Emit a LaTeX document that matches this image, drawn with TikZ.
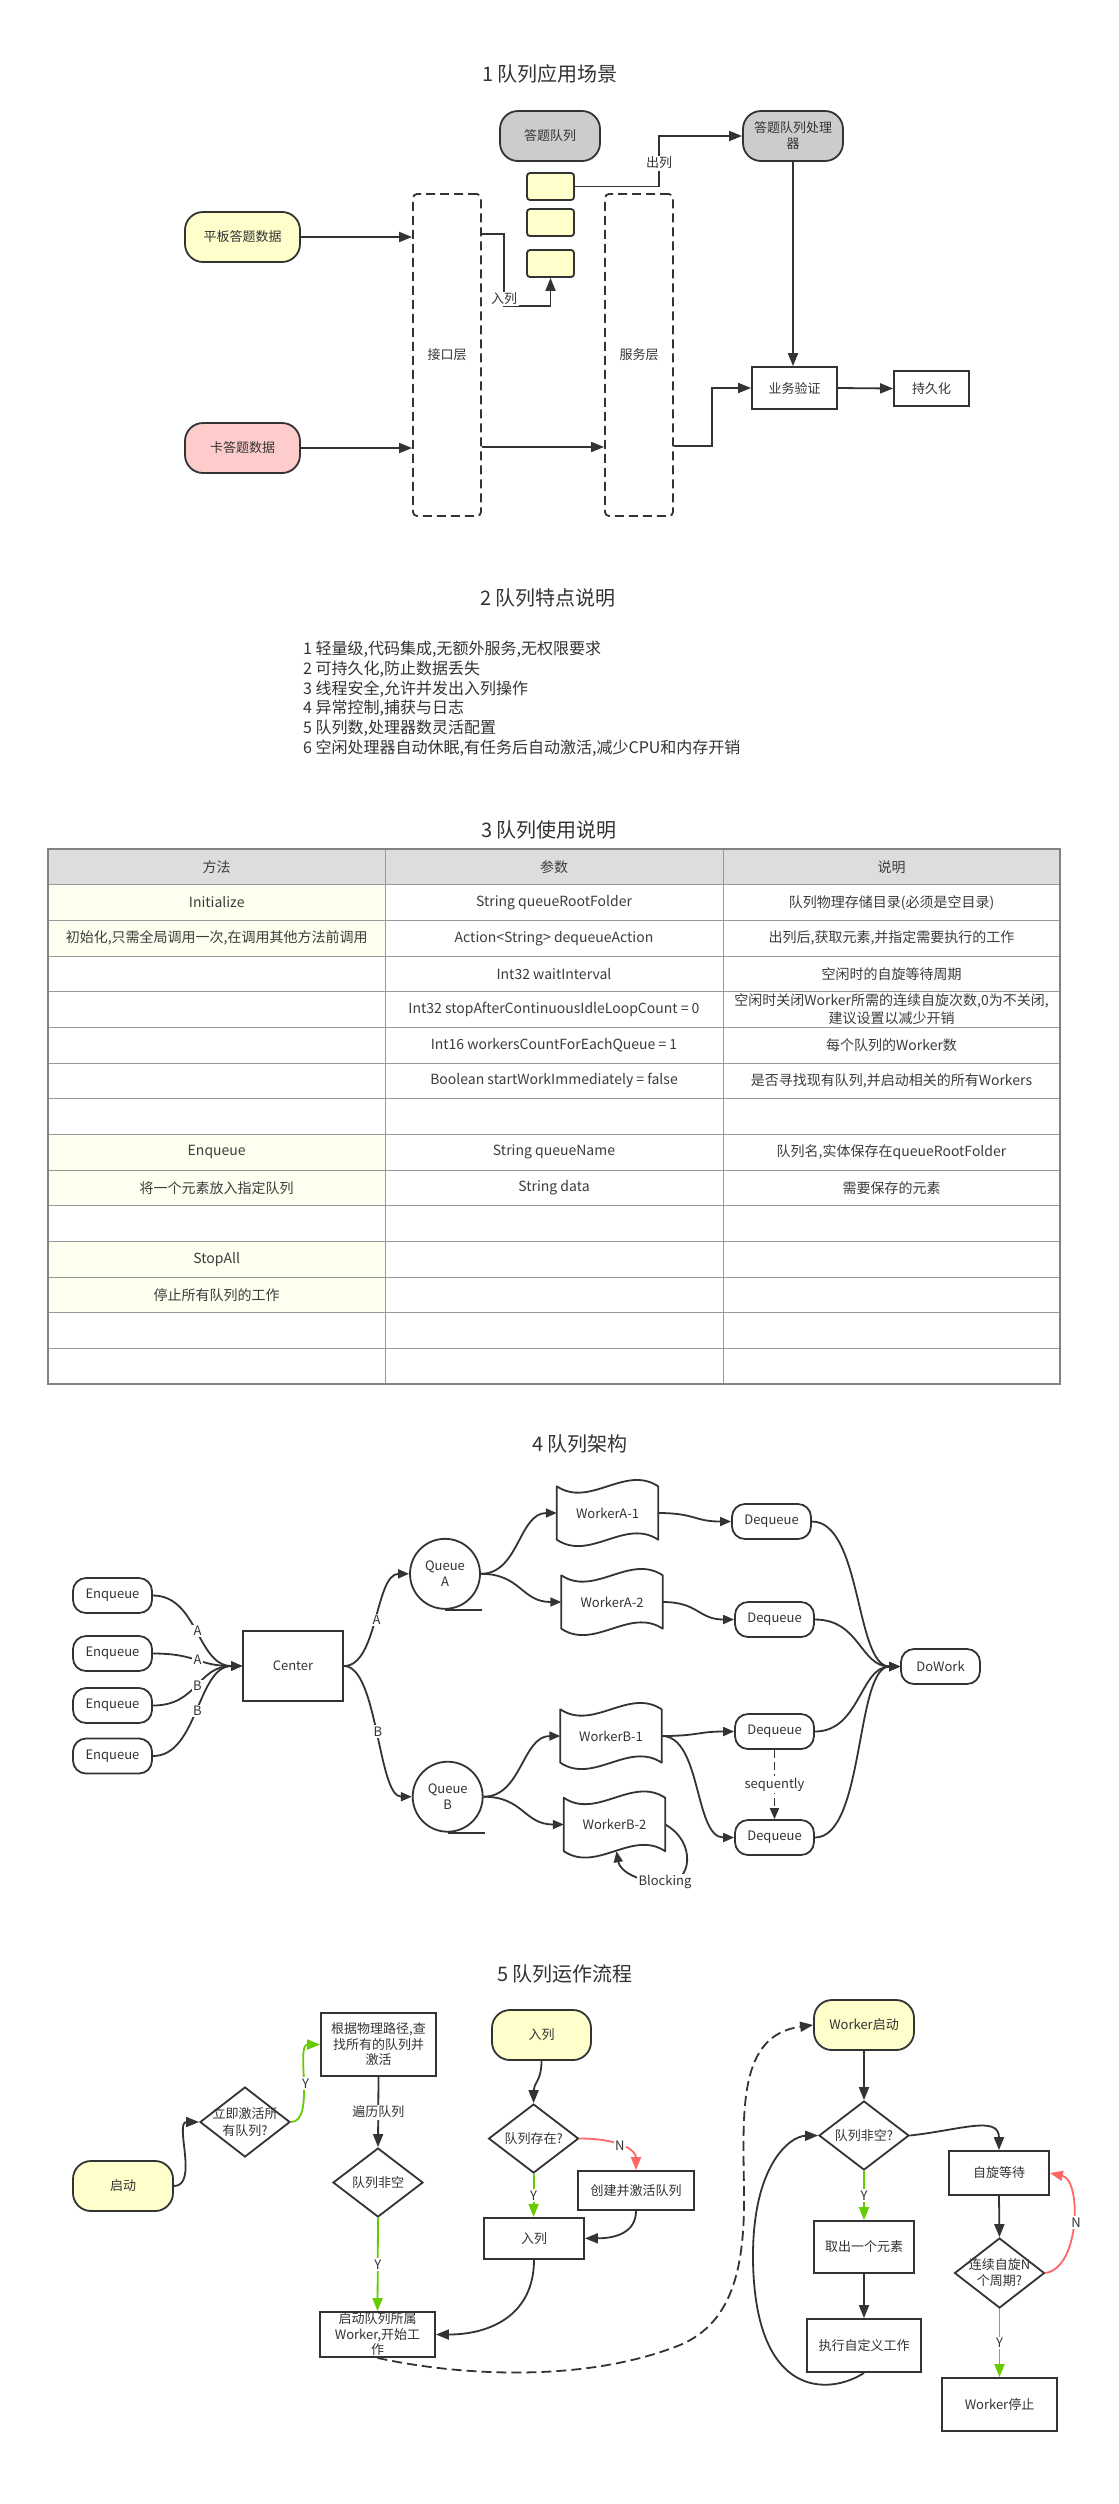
\documentclass[tikz,border=0pt]{standalone}
\usepackage{fontspec}
\setmainfont{Noto Sans CJK SC}
\usetikzlibrary{arrows.meta,shapes.geometric}
\definecolor{ink}{HTML}{333333}
\definecolor{tink}{HTML}{3C3C3C}
\definecolor{yel}{HTML}{FFFFCC}
\definecolor{pnk}{HTML}{FFCCCC}
\definecolor{gry}{HTML}{CCCCCC}
\definecolor{grn}{HTML}{66CC00}
\definecolor{rd}{HTML}{FF6666}
\definecolor{hdr}{HTML}{DDDDDD}
\definecolor{cyel}{HTML}{FFFFF0}
\definecolor{gridc}{HTML}{999999}
\newcommand\fsz[2]{\fontsize{#1}{#2}\selectfont}
\newcommand\tapeshape[1]{\draw[ln, line join=round] (#1.north west) .. controls +(33,22) and +(-33,-22) .. (#1.north east) -- (#1.south east) .. controls +(-33,-22) and +(33,22) .. (#1.south west) -- cycle;}
\tikzset{
 every node/.style={text=ink, font={\fsz{13}{16}}, inner sep=0pt, align=center},
 ln/.style={draw=ink, line width=1.8pt},
 arr/.style={ln, -{Triangle[length=13pt,width=10pt]}},
 sarr/.style={ln, -{Triangle[length=11pt,width=9pt]}},
 garr/.style={draw=grn, line width=1.8pt, -{Triangle[length=13pt,width=10pt]}},
 rarr/.style={draw=rd, line width=1.8pt, -{Triangle[length=13pt,width=10pt]}},
 rnode/.style={draw=ink, line width=1.8pt, rounded corners=18pt, minimum width=100pt, minimum height=50pt},
 bx/.style={draw=ink, line width=1.8pt, rectangle},
 dbox/.style={draw=ink, line width=1.8pt, dash pattern=on 9pt off 5pt, rounded corners=4pt},
 pill/.style={draw=ink, line width=1.8pt, rounded corners=13pt, minimum width=79pt, minimum height=35pt},
 dia/.style={diamond, draw=ink, line width=1.8pt, minimum width=90pt, minimum height=70pt},
 lbl/.style={fill=white, inner sep=1.5pt},
 ttl/.style={font={\fsz{20}{24}}},
 tcell/.style={font={\fsz{14}{17.7}}, text=tink},
 gridl/.style={draw=gridc, line width=1pt},
 worker/.style={minimum width=101pt, minimum height=53pt},
}
\begin{document}
\begin{tikzpicture}[x=1pt,y=-1pt]
\fill[white] (0,0) rectangle (1119,2504);
\useasboundingbox (0,0) rectangle (1119,2504);

% ===== Section 1 =====
\node[ttl] (t1) at (550,74) {1 队列应用场景};
\node[rnode, fill=gry] (dtq) at (550,136) {答题队列};
\node[rnode, fill=gry] (dtp) at (793,136) {答题队列处理\\器};
\node[draw=ink, line width=1.8pt, fill=yel, rounded corners=3pt, minimum width=47pt, minimum height=27pt] (q1) at (550.5,186.5) {};
\node[draw=ink, line width=1.8pt, fill=yel, rounded corners=3pt, minimum width=47pt, minimum height=27pt] (q2) at (550.5,222.5) {};
\node[draw=ink, line width=1.8pt, fill=yel, rounded corners=3pt, minimum width=47pt, minimum height=27pt] (q3) at (550.5,263.5) {};
\node[rnode, fill=yel, minimum width=115pt] (pb) at (242.5,237) {平板答题数据};
\node[rnode, fill=pnk, minimum width=115pt] (kd) at (242.5,448) {卡答题数据};
\node[dbox, minimum width=68pt, minimum height=322pt] (jk) at (447,355) {接口层};
\node[dbox, minimum width=68pt, minimum height=322pt] (fw) at (639,355) {服务层};
\node[bx, minimum width=85pt, minimum height=42pt] (yw) at (794.5,388) {业务验证};
\node[bx, minimum width=75pt, minimum height=35pt] (cj) at (931.5,388.5) {持久化};

\draw[arr] (pb.east) -- (pb.east -| jk.west);
\draw[arr] (kd.east) -- (kd.east -| jk.west);
\draw[arr] (jk.east |- 0,447) -- (fw.west |- 0,447);
\draw[arr] (jk.east |- 0,234) -- (504,234) -- (504,306) -- (q3.south |- 0,306) -- (q3.south);
\node[lbl] (rul) at (504,299) {入列};
\draw[arr] (q1.east) -- (659,186.5) -- (659,136) -- (dtp.west);
\node[lbl] (cul) at (659,163) {出列};
\draw[arr] (dtp.south) -- (dtp.south |- yw.north);
\draw[arr] (fw.east |- 0,446) -- (712,446) -- (712,388) -- (yw.west);
\draw[arr] (yw.east) -- (cj.west);

% ===== Section 2 =====
\node[ttl] (t2) at (548,598) {2 队列特点说明};
\node[font={\fsz{16}{19.8}}, align=left, anchor=west] (feat) at (303,698.8) {1 轻量级,代码集成,无额外服务,无权限要求\\2 可持久化,防止数据丢失\\3 线程安全,允许并发出入列操作\\4 异常控制,捕获与日志\\5 队列数,处理器数灵活配置\\6 空闲处理器自动休眠,有任务后自动激活,减少CPU和内存开销};

% ===== Section 3 =====
\node[ttl] (t3) at (549,830) {3 队列使用说明};
\fill[hdr] (48,849) rectangle (1060,884.7);
\fill[cyel] (48,884.7) rectangle (385.5,956);
\fill[cyel] (48,1134.3) rectangle (385.5,1205.7);
\fill[cyel] (48,1241.3) rectangle (385.5,1312.7);
\foreach \k in {1,...,14} \draw[gridl] (48,{849+\k*35.667}) -- (1060,{849+\k*35.667});
\draw[gridl] (385.5,849) -- (385.5,1384) (723,849) -- (723,1384);
\draw[draw=gridc!85!black, line width=1.8pt] (48,849) rectangle (1060,1384);
\node[tcell] (h1) at (216.7,866.8) {方法};
\node[tcell] (h2) at (554,866.8) {参数};
\node[tcell] (h3) at (891.5,866.8) {说明};
\node[tcell] (a1) at (216.7,902.5) {Initialize};
\node[tcell] (b1) at (554,902.5) {String queueRootFolder};
\node[tcell] (c1) at (891.5,902.5) {队列物理存储目录(必须是空目录)};
\node[tcell] (a2) at (216.7,938.2) {初始化,只需全局调用一次,在调用其他方法前调用};
\node[tcell] (b2) at (554,938.2) {Action<String> dequeueAction};
\node[tcell] (c2) at (891.5,938.2) {出列后,获取元素,并指定需要执行的工作};
\node[tcell] (b3) at (554,973.8) {Int32 waitInterval};
\node[tcell] (c3) at (891.5,973.8) {空闲时的自旋等待周期};
\node[tcell] (b4) at (554,1009.5) {Int32 stopAfterContinuousIdleLoopCount = 0};
\node[tcell] (c4) at (891.5,1009.5) {空闲时关闭Worker所需的连续自旋次数,0为不关闭,\\建议设置以减少开销};
\node[tcell] (b5) at (554,1045.2) {Int16 workersCountForEachQueue = 1};
\node[tcell] (c5) at (891.5,1045.2) {每个队列的Worker数};
\node[tcell] (b6) at (554,1080.8) {Boolean startWorkImmediately = false};
\node[tcell] (c6) at (891.5,1080.8) {是否寻找现有队列,并启动相关的所有Workers};
\node[tcell] (a8) at (216.7,1152.2) {Enqueue};
\node[tcell] (b8) at (554,1152.2) {String queueName};
\node[tcell] (c8) at (891.5,1152.2) {队列名,实体保存在queueRootFolder};
\node[tcell] (a9) at (216.7,1187.8) {将一个元素放入指定队列};
\node[tcell] (b9) at (554,1187.8) {String data};
\node[tcell] (c9) at (891.5,1187.8) {需要保存的元素};
\node[tcell] (a11) at (216.7,1259.2) {StopAll};
\node[tcell] (a12) at (216.7,1294.8) {停止所有队列的工作};

% ===== Section 4 =====
\node[ttl] (t4) at (580,1444) {4 队列架构};
\node[pill] (e1) at (112.5,1595.5) {Enqueue};
\node[pill] (e2) at (112.5,1653.5) {Enqueue};
\node[pill] (e3) at (112.5,1705.5) {Enqueue};
\node[pill] (e4) at (112.5,1756) {Enqueue};
\node[bx, minimum width=100pt, minimum height=70pt] (ct) at (293,1666) {Center};
\node[circle, ln, minimum size=70pt] (qa) at (445,1573.8) {Queue\\A};
\draw[ln] (qa.south) -- ++(37,0);
\node[circle, ln, minimum size=70pt] (qb) at (447.7,1796.7) {Queue\\B};
\draw[ln] (qb.south) -- ++(37,0);
\node[worker] (wa1) at (607.5,1513) {WorkerA-1};
\node[worker] (wa2) at (612,1602) {WorkerA-2};
\node[worker] (wb1) at (611,1736) {WorkerB-1};
\node[worker] (wb2) at (614.5,1824.5) {WorkerB-2};
\tapeshape{wa1}
\tapeshape{wa2}
\tapeshape{wb1}
\tapeshape{wb2}
\node[pill] (d1) at (771.5,1521.5) {Dequeue};
\node[pill] (d2) at (774.5,1619.5) {Dequeue};
\node[pill] (d3) at (774.5,1731.5) {Dequeue};
\node[pill] (d4) at (774.5,1837.5) {Dequeue};
\node[pill] (dw) at (940.5,1666.5) {DoWork};

\draw[sarr] (e1.east) .. controls +(45,0) and +(-45,0) .. (ct.west) node[lbl,pos=0.5] {A};
\draw[sarr] (e2.east) .. controls +(45,0) and +(-45,0) .. (ct.west) node[lbl,pos=0.5] {A};
\draw[sarr] (e3.east) .. controls +(45,0) and +(-45,0) .. (ct.west) node[lbl,pos=0.5] {B};
\draw[sarr] (e4.east) .. controls +(45,0) and +(-45,0) .. (ct.west) node[lbl,pos=0.5] {B};
\draw[sarr] (ct.east) .. controls +(34,0) and +(-34,0) .. (qa.west) node[lbl,pos=0.5] {A};
\draw[sarr] (ct.east) .. controls +(34,0) and +(-34,0) .. (qb.west) node[lbl,pos=0.5] {B};
\draw[sarr] (qa.east) .. controls +(38,0) and +(-38,0) .. (wa1.west);
\draw[sarr] (qa.east) .. controls +(40,0) and +(-40,0) .. (wa2.west);
\draw[sarr] (qb.east) .. controls +(38,0) and +(-38,0) .. (wb1.west);
\draw[sarr] (qb.east) .. controls +(40,0) and +(-40,0) .. (wb2.west);
\draw[sarr] (wa1.east) .. controls +(37,0) and +(-37,0) .. (d1.west);
\draw[sarr] (wa2.east) .. controls +(36,0) and +(-36,0) .. (d2.west);
\draw[sarr] (wb1.east) .. controls +(36,0) and +(-36,0) .. (d3.west);
\draw[sarr] (wb1.east) .. controls +(40,0) and +(-40,0) .. (d4.west);
\draw[sarr] (d1.east) .. controls +(50,0) and +(-45,0) .. (dw.west);
\draw[sarr] (d2.east) .. controls +(45,0) and +(-40,0) .. (dw.west);
\draw[sarr] (d3.east) .. controls +(45,0) and +(-40,0) .. (dw.west);
\draw[sarr] (d4.east) .. controls +(50,0) and +(-45,0) .. (dw.west);
\draw[ln, dash pattern=on 8pt off 4pt, -{Triangle[length=11pt,width=9pt]}] (d3.south) -- (d4.north) node[lbl, midway] {sequently};
\draw[sarr] (wb2.east) .. controls (697,1842) and (692,1884) .. (665,1883) .. controls (640,1882) and (620,1872) .. ([xshift=2pt]wb2.south);
\node[lbl] (blk) at (665,1882) {Blocking};

% ===== Section 5 =====
\node[ttl] (t5) at (565,1974) {5 队列运作流程};
\node[rnode, fill=yel] (qd) at (123,2186) {启动};
\node[dia] (dia1) at (245,2122) {};
\node[font={\fsz{13}{16.5}}] (dia1t) at (dia1) {立即激活所\\有队列?};
\node[bx, minimum width=115pt, minimum height=63pt] (gz) at (378.5,2044.5) {};
\node[font={\fsz{13}{15.5}}] (gzt) at (gz) {根据物理路径,查\\找所有的队列并\\激活};
\node[dia, minimum height=69pt] (dia2) at (378,2182.5) {};
\node (dia2t) at (dia2) {队列非空};
\node[bx, minimum width=115pt, minimum height=45pt] (qs) at (377.5,2334.5) {};
\node[font={\fsz{13}{15.5}}] (qst) at (qs) {启动队列所属\\Worker,开始工\\作};
\node[rnode, fill=yel, minimum width=99pt] (rl) at (541.5,2035) {入列};
\node[dia, minimum height=69pt] (dia3) at (533.6,2138.5) {};
\node (dia3t) at (dia3) {队列存在?};
\node[bx, minimum width=100pt, minimum height=41pt] (rb) at (534,2238.3) {入列};
\node[bx, minimum width=116pt, minimum height=39pt] (cjb) at (636,2190.5) {创建并激活队列};
\node[rnode, fill=yel] (ws) at (864,2025) {Worker启动};
\node[dia, minimum height=69pt] (dia4) at (864,2135.5) {};
\node (dia4t) at (dia4) {队列非空?};
\node[bx, minimum width=100pt, minimum height=52pt] (qc) at (864,2247) {取出一个元素};
\node[bx, minimum width=114pt, minimum height=53pt] (zx) at (864,2345.5) {执行自定义工作};
\node[bx, minimum width=100pt, minimum height=44pt] (zw) at (999,2173) {自旋等待};
\node[dia] (dia5) at (999.5,2273) {};
\node[font={\fsz{13}{16}}] (dia5t) at (dia5) {连续自旋N\\个周期?};
\node[bx, minimum width=115pt, minimum height=53pt] (wst) at (999.5,2404.5) {Worker停止};

\draw[arr] (qd.east) .. controls +(25,0) and +(-25,0) .. (dia1.west);
\draw[garr] (dia1.east) .. controls +(25,0) and +(-25,0) .. (gz.west) node[lbl,pos=0.5] {Y};
\draw[arr] (gz.south) -- (dia2.north) node[lbl,midway] {遍历队列};
\draw[garr] (dia2.south) -- (qs.north) node[lbl,midway] {Y};
\draw[arr] (rl.south) .. controls +(0,20) and +(0,-20) .. (dia3.north);
\draw[garr] (dia3.south) -- (dia3.south |- rb.north) node[lbl,midway] {Y};
\draw[rarr] (dia3.east) .. controls +(40,0) and +(0,-20) .. (cjb.north) node[lbl,pos=0.45] {N};
\draw[arr] (cjb.south) .. controls +(0,22) and +(30,0) .. (rb.east);
\draw[arr] (rb.south) .. controls +(0,55) and +(55,0) .. (qs.east);
\draw[ln, dash pattern=on 10pt off 5pt, -{Triangle[length=13pt,width=10pt]}] (qs.south) .. controls (450,2374) and (580,2385) .. (680,2345) .. controls (735,2322) and (745,2262) .. (744,2190) .. controls (743,2110) and (738,2035) .. (ws.west);
\draw[arr] (ws.south) -- (dia4.north);
\draw[garr] (dia4.south) -- (qc.north) node[lbl,midway] {Y};
\draw[arr] (qc.south) -- (zx.north);
\draw[arr] (zx.south) .. controls (830,2395) and (755,2400) .. (753,2260) .. controls (752,2165) and (790,2136) .. (dia4.west);
\draw[arr] (dia4.east) .. controls (960,2130) and (999,2115) .. (zw.north);
\draw[arr] (zw.south) -- (dia5.north);
\draw[rarr] (dia5.east) .. controls (1080,2268) and (1082,2180) .. (zw.east);
\node[lbl] (nl) at (1076,2222.7) {N};
\draw[garr] (dia5.south) -- (wst.north) node[lbl,midway] {Y};
\end{tikzpicture}
\end{document}
